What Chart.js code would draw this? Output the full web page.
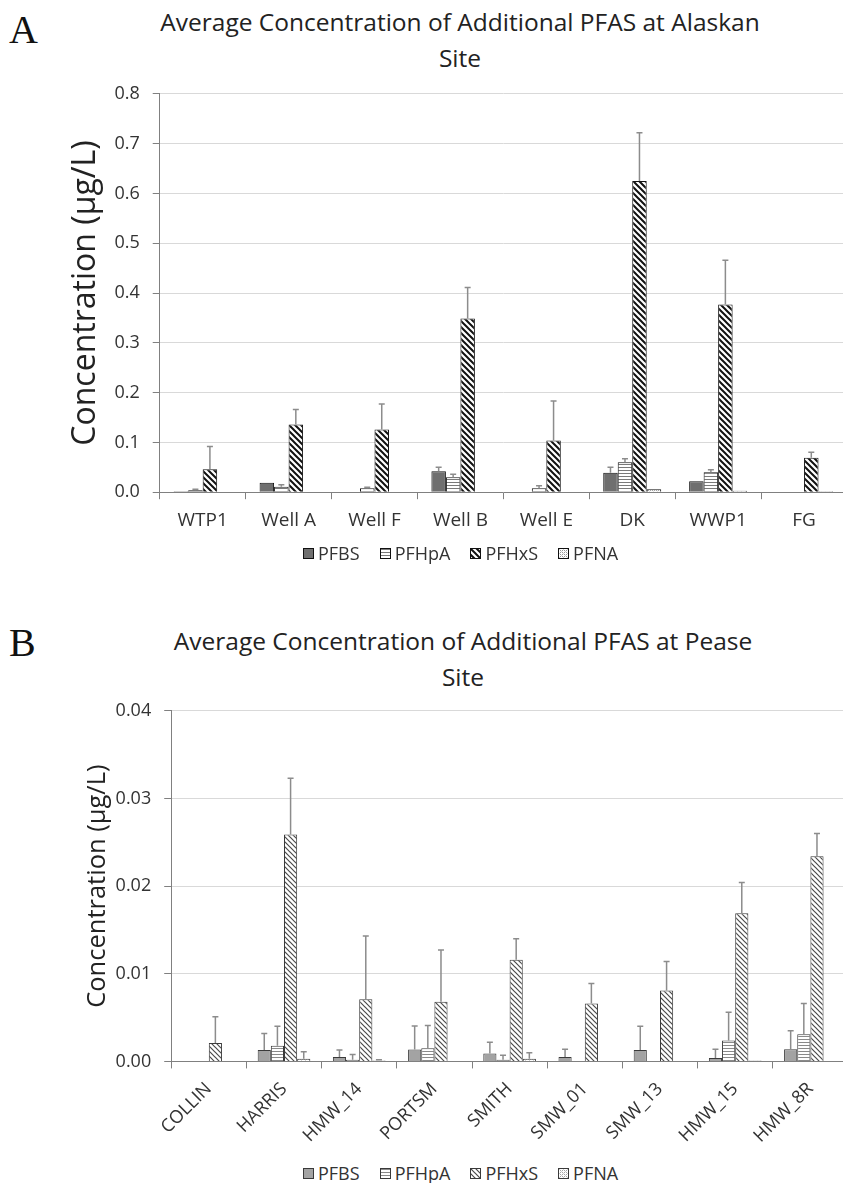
<!DOCTYPE html>
<html>
<head>
<meta charset="utf-8">
<script src="https://cdn.jsdelivr.net/npm/chart.js@4.4.1/dist/chart.umd.min.js"></script>
<style>
  html, body { margin: 0; padding: 0; background: #fff; }
  #page { position: relative; width: 843px; height: 1183px; overflow: hidden; font-family: "Open Sans", sans-serif; }
  .letter { position: absolute; font-family: "Liberation Serif", serif; font-size: 40px; line-height: 44px; color: #111; }
  .title { position: absolute; transform: translateX(-50%); text-align: center; white-space: nowrap; font-size: 24.5px; line-height: 36px; color: #222; }
  .box { position: absolute; }
  .legend { position: absolute; display: flex; align-items: center; font-size: 18px; line-height: 22px; color: #333; white-space: nowrap; }
  .legend .item { display: flex; align-items: center; margin-right: 20px; }
  .legend canvas { margin-right: 4px; }
</style>
</head>
<body>
<div id="page">
  <div class="letter" style="left:9px;top:8px">A</div>
  <div class="title" style="left:460px;top:4px">Average Concentration of Additional PFAS at Alaskan<br>Site</div>
  <div class="box" style="left:0;top:70px;width:850px;height:472px"><canvas id="chartA"></canvas></div>
  <div class="legend" id="legendA" style="left:303px;top:542px"></div>

  <div class="letter" style="left:9px;top:621px">B</div>
  <div class="title" style="left:463px;top:623px">Average Concentration of Additional PFAS at Pease<br>Site</div>
  <div class="box" style="left:0;top:687px;width:850px;height:470px"><canvas id="chartB"></canvas></div>
  <div class="legend" id="legendB" style="left:303px;top:1162px"></div>
</div>

<script>
// series names
const seriesNames = ['PFBS', 'PFHpA', 'PFHxS', 'PFNA'];

// panel A - Alaskan site
const sitesA = ['WTP1', 'Well A', 'Well F', 'Well B', 'Well E', 'DK', 'WWP1', 'FG'];
const pfbsA = [0.002, 0.019, 0, 0.042, 0.001, 0.039, 0.022, 0];
const pfbsErrA = [0, 0, 0, 0.008, 0, 0.011, 0, 0];
const pfhpaA = [0.004, 0.011, 0.008, 0.030, 0.008, 0.060, 0.040, 0];
const pfhpaErrA = [0.002, 0.004, 0.002, 0.006, 0.005, 0.007, 0.005, 0];
const pfhxsA = [0.046, 0.136, 0.126, 0.349, 0.104, 0.625, 0.377, 0.069];
const pfhxsErrA = [0.046, 0.030, 0.051, 0.062, 0.079, 0.097, 0.089, 0.011];
const pfnaA = [0.001, 0.001, 0.001, 0.001, 0.001, 0.006, 0.003, 0.002];
const pfnaErrA = [0, 0, 0, 0, 0, 0, 0, 0];

// panel B - Pease site
const sitesB = ['COLLIN', 'HARRIS', 'HMW_14', 'PORTSM', 'SMITH', 'SMW_01', 'SMW_13', 'HMW_15', 'HMW_8R'];
const pfbsB = [0, 0.0013, 0.0005, 0.00135, 0.0009, 0.0005, 0.0013, 0.0004, 0.0014];
const pfbsErrB = [0, 0.0019, 0.0008, 0.0027, 0.0013, 0.0009, 0.0027, 0.001, 0.0021];
const pfhpaB = [0, 0.0018, 0.0002, 0.0015, 0.0002, 0, 0, 0.0024, 0.0031];
const pfhpaErrB = [0, 0.0022, 0.0006, 0.0026, 0.0005, 0, 0, 0.0032, 0.0035];
const pfhxsB = [0.0021, 0.0259, 0.0071, 0.0068, 0.0116, 0.0066, 0.0081, 0.0169, 0.0234];
const pfhxsErrB = [0.003, 0.0064, 0.0072, 0.0059, 0.0024, 0.0023, 0.0033, 0.0035, 0.0026];
const pfnaB = [0, 0.0003, 0.0001, 0, 0.0003, 0, 0, 0.0001, 0];
const pfnaErrB = [0, 0.0008, 0.0001, 0, 0.0007, 0, 0, 0, 0];

// fill patterns
const patCtx = document.createElement('canvas').getContext('2d');

function tile(w, h, draw) {
    const c = document.createElement('canvas');
    c.width = w; c.height = h;
    const g = c.getContext('2d');
    g.fillStyle = '#fff';
    g.fillRect(0, 0, w, h);
    draw(g);
    return patCtx.createPattern(c, 'repeat');
}

function hLines(color) {
    return tile(4, 3, g => { g.fillStyle = color; g.fillRect(0, 1, 4, 1); });
}

function diagLines(size, color, width) {
    return tile(size, size, g => {
        g.strokeStyle = color;
        g.lineWidth = width;
        g.beginPath();
        for (const x0 of [-size, 0, size]) {
            g.moveTo(x0 - 1, -1);
            g.lineTo(x0 + size + 1, size + 1);
        }
        g.stroke();
    });
}

function dots(color) {
    return tile(4, 4, g => {
        g.fillStyle = color;
        g.fillRect(0, 0, 1, 1); g.fillRect(2, 2, 1, 1);
        g.fillRect(2, 0, 1, 1); g.fillRect(0, 2, 1, 1);
        g.fillStyle = '#d0d0d0';
        g.fillRect(1, 1, 1, 1); g.fillRect(3, 3, 1, 1);
    });
}

const fillsA = ['#6f6f6f', hLines('#7a7a7a'), diagLines(6, '#111', 2), dots('#9a9a9a')];
const fillsB = ['#a3a3a3', hLines('#8a8a8a'), diagLines(5, '#4a4a4a', 1.2), dots('#a8a8a8')];

// upward error bars
const errorBars = {
    id: 'errorBars',
    afterDatasetsDraw(chart) {
        const g = chart.ctx;
        const yScale = chart.scales.y;
        g.save();
        g.strokeStyle = '#8c8c8c';
        g.lineWidth = 1.5;
        chart.data.datasets.forEach((ds, i) => {
            const meta = chart.getDatasetMeta(i);
            meta.data.forEach((bar, j) => {
                const e = ds.errors[j];
                if (!e) return;
                const yTop = yScale.getPixelForValue(ds.data[j] + e);
                g.beginPath();
                g.moveTo(bar.x, bar.y);
                g.lineTo(bar.x, yTop);
                g.moveTo(bar.x - 3, yTop);
                g.lineTo(bar.x + 3, yTop);
                g.stroke();
            });
        });
        g.restore();
    }
};

function buildDatasets(values, errors, fills, border, catPct) {
    return values.map((v, i) => ({
        label: seriesNames[i],
        data: v,
        errors: errors[i],
        backgroundColor: fills[i],
        borderColor: border,
        borderWidth: 1,
        borderSkipped: 'start',
        categoryPercentage: catPct,
        barPercentage: 1
    }));
}

function makeChart(id, labels, datasets, yMax, step, digits, opts) {
    return new Chart(document.getElementById(id), {
        type: 'bar',
        data: { labels: labels, datasets: datasets },
        plugins: [errorBars],
        options: {
            responsive: true,
            maintainAspectRatio: false,
            animation: false,
            layout: { padding: opts.padding },
            plugins: { legend: { display: false }, tooltip: { enabled: false } },
            scales: {
                x: {
                    grid: { display: true, drawOnChartArea: false, offset: true, tickLength: 7, tickColor: '#808080' },
                    border: { color: '#808080' },
                    ticks: {
                        color: '#333',
                        font: { family: 'Open Sans', size: opts.xFont },
                        padding: opts.xPad,
                        autoSkip: false,
                        minRotation: opts.rot,
                        maxRotation: opts.rot
                    }
                },
                y: {
                    min: 0,
                    max: yMax,
                    grid: { color: '#d9d9d9', tickLength: 7, tickColor: '#808080' },
                    border: { color: '#808080' },
                    ticks: {
                        stepSize: step,
                        color: '#333',
                        font: { family: 'Open Sans', size: 18 },
                        padding: 13,
                        callback: v => Number(v).toFixed(digits)
                    },
                    title: {
                        display: true,
                        text: 'Concentration (µg/L)',
                        color: '#222',
                        font: { family: 'Open Sans', size: opts.yTitleSize },
                        padding: opts.titlePad
                    }
                }
            }
        }
    });
}

makeChart('chartA', sitesA,
    buildDatasets([pfbsA, pfhpaA, pfhxsA, pfnaA], [pfbsErrA, pfhpaErrA, pfhxsErrA, pfnaErrA], fillsA, '#111', 0.675),
    0.8, 0.1, 1,
    { padding: { left: 67, top: 3, right: 3, bottom: 0 }, xPad: 10, xFont: 19, rot: 0, yTitleSize: 32, titlePad: { top: 0, bottom: -4 } });

makeChart('chartB', sitesB,
    buildDatasets([pfbsB, pfhpaB, pfhxsB, pfnaB], [pfbsErrB, pfhpaErrB, pfhxsErrB, pfnaErrB], fillsB, '#3a3a3a', 0.70),
    0.04, 0.01, 2,
    { padding: { left: 82, top: 4, right: 2, bottom: 0 }, xPad: 10, xFont: 18, rot: 45, yTitleSize: 25.5, titlePad: { top: 0, bottom: -10 } });

// legends
function buildLegend(id, fills, border) {
    const el = document.getElementById(id);
    seriesNames.forEach((name, i) => {
        const item = document.createElement('span');
        item.className = 'item';
        const sw = document.createElement('canvas');
        sw.width = 11; sw.height = 11;
        const g = sw.getContext('2d');
        g.fillStyle = fills[i];
        g.fillRect(0, 0, 11, 11);
        g.strokeStyle = border;
        g.lineWidth = 1;
        g.strokeRect(0.5, 0.5, 10, 10);
        item.appendChild(sw);
        const t = document.createElement('span');
        t.textContent = name;
        item.appendChild(t);
        el.appendChild(item);
    });
}
buildLegend('legendA', fillsA, '#111');
buildLegend('legendB', fillsB, '#3a3a3a');
</script>
</body>
</html>
